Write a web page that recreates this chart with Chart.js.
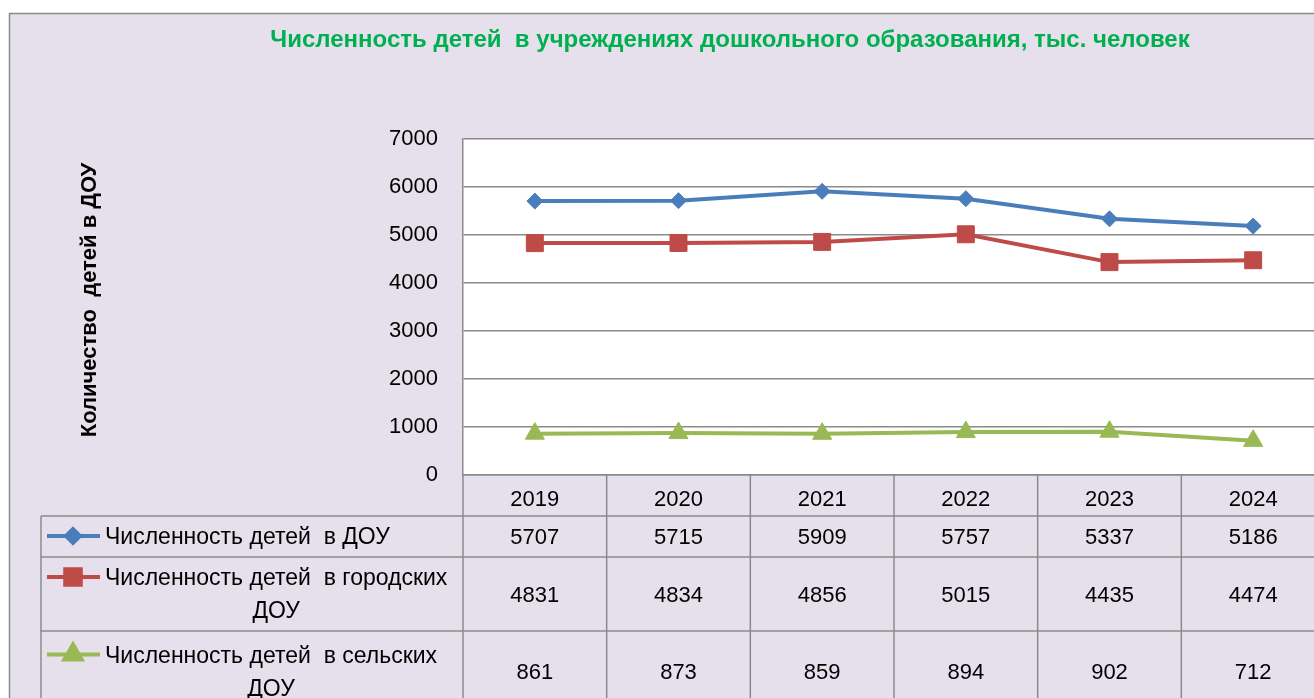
<!DOCTYPE html>
<html lang="ru">
<head>
<meta charset="utf-8">
<title>Численность детей в учреждениях дошкольного образования</title>
<script src="https://cdn.jsdelivr.net/npm/chart.js@4.4.1/dist/chart.umd.min.js"></script>
<style>
    html, body { margin: 0; padding: 0; overflow: hidden; background: #fff; }
    #chart { display: block; }
</style>
</head>
<body>
<canvas id="chart" width="1330" height="698"></canvas>
<script>
// =========================================================
// DATA
// =========================================================
const years       = ['2019', '2020', '2021', '2022', '2023', '2024'];
const kidsTotal   = [5707, 5715, 5909, 5757, 5337, 5186];
const kidsCity    = [4831, 4834, 4856, 5015, 4435, 4474];
const kidsVillage = [861, 873, 859, 894, 902, 712];
const yTicks      = [0, 1000, 2000, 3000, 4000, 5000, 6000, 7000];

const chartTitle = 'Численность детей  в учреждениях дошкольного образования, тыс. человек';
const yTitle     = 'Количество  детей в ДОУ';
// row captions of the data table (already split into lines)
const seriesNames = [
    ['Численность детей  в ДОУ'],
    ['Численность детей  в городских', 'ДОУ'],
    ['Численность детей  в сельских', 'ДОУ']
];

// =========================================================
// LOOK
// =========================================================
const FONT      = "'Liberation Sans', Arial, sans-serif";
const LAVENDER  = '#E5E0EC';
const GRID      = '#8A8A8A';
const BLUE      = '#4A7EBB';
const RED       = '#BE4B48';
const GREEN     = '#98B954';

// table rows: top/bottom y of each body row (header row is the x axis)
const ROW_EDGES  = [516, 557, 631, 712];
const TABLE_LEFT = 41;
const LINE_GAP   = 33;

// =========================================================
// PLUGIN: sheet background + data table under the x axis
// =========================================================
const sheetPlugin = {
    id: 'sheet',
    beforeDraw(chart) {
        const { ctx, width, height, chartArea: a } = chart;
        ctx.save();
        ctx.fillStyle = '#fff';
        ctx.fillRect(0, 0, width, height);
        ctx.fillStyle = LAVENDER;
        ctx.fillRect(9, 13, width, height);
        ctx.strokeStyle = '#8C8C8C';
        ctx.lineWidth = 1.5;
        ctx.strokeRect(9.5, 13.5, width + 20, height + 20);
        ctx.fillStyle = '#fff';
        ctx.fillRect(a.left, a.top, a.right - a.left, a.bottom - a.top);
        ctx.restore();
    },
    afterDraw(chart) {
        const { ctx, width, height, chartArea: a } = chart;
        const xs = chart.scales.x;
        const half = (xs.getPixelForValue(1) - xs.getPixelForValue(0)) / 2;

        ctx.save();

        // y axis title
        ctx.save();
        ctx.translate(90, 300);
        ctx.rotate(-Math.PI / 2);
        ctx.font = 'bold 22px ' + FONT;
        ctx.fillStyle = '#000';
        ctx.textAlign = 'center';
        ctx.textBaseline = 'middle';
        ctx.fillText(yTitle, 0, 0);
        ctx.restore();

        // grid of the table
        ctx.strokeStyle = GRID;
        ctx.lineWidth = 1.5;
        ctx.beginPath();
        ROW_EDGES.slice(0, 3).forEach(y => {
            ctx.moveTo(TABLE_LEFT, y);
            ctx.lineTo(width, y);
        });
        ctx.moveTo(TABLE_LEFT, ROW_EDGES[0]);
        ctx.lineTo(TABLE_LEFT, height);
        ctx.moveTo(a.left, a.bottom);
        ctx.lineTo(a.left, height);
        years.forEach((_, i) => {
            const x = xs.getPixelForValue(i) + half;
            ctx.moveTo(x, a.bottom);
            ctx.lineTo(x, height);
        });
        ctx.stroke();

        // legend keys, captions, values
        chart.data.datasets.forEach((ds, r) => {
            const top = ROW_EDGES[r], bottom = ROW_EDGES[r + 1];
            const mid = (top + bottom) / 2 + 1.5;
            const lines = seriesNames[r];
            const firstY = mid - (lines.length - 1) * LINE_GAP / 2;

            // key: short line with the marker
            ctx.strokeStyle = ds.borderColor;
            ctx.lineWidth = 4;
            ctx.beginPath();
            ctx.moveTo(47, firstY - 2);
            ctx.lineTo(100, firstY - 2);
            ctx.stroke();
            ctx.fillStyle = ds.pointBackgroundColor;
            ctx.strokeStyle = ds.pointBorderColor;
            Chart.helpers.drawPoint(ctx, {
                pointStyle: ds.pointStyle,
                radius: ds.pointRadius - 1,
                rotation: 0,
                borderWidth: 1
            }, 73, firstY - 2);

            // caption
            ctx.font = '23px ' + FONT;
            ctx.fillStyle = '#000';
            ctx.textBaseline = 'middle';
            const firstW = ctx.measureText(lines[0]).width;
            ctx.textAlign = 'left';
            ctx.fillText(lines[0], 105, firstY);
            ctx.textAlign = 'center';
            for (let k = 1; k < lines.length; k++) {
                ctx.fillText(lines[k], 105 + firstW / 2, firstY + k * LINE_GAP);
            }

            // values
            ctx.font = '22px ' + FONT;
            ds.data.forEach((v, i) => {
                ctx.fillText(String(v), xs.getPixelForValue(i), mid);
            });
        });

        ctx.restore();
    }
};

// =========================================================
// CHART
// =========================================================
function makeSeries(label, data, color, style, radius) {
    return {
        label: label,
        data: data,
        borderColor: color,
        backgroundColor: color,
        borderWidth: 4,
        tension: 0,
        pointStyle: style,
        pointRadius: radius,
        pointHoverRadius: radius,
        pointBackgroundColor: color,
        pointBorderColor: color,
        pointBorderWidth: 1
    };
}

new Chart(document.getElementById('chart'), {
    type: 'line',
    data: {
        labels: years,
        datasets: [
            makeSeries(seriesNames[0].join(' '), kidsTotal, BLUE, 'rectRot', 8),
            makeSeries(seriesNames[1].join(' '), kidsCity, RED, 'rect', 12),
            makeSeries(seriesNames[2].join(' '), kidsVillage, GREEN, 'triangle', 11)
        ]
    },
    options: {
        responsive: false,
        animation: false,
        devicePixelRatio: 1,
        layout: {
            autoPadding: false,
            padding: { top: 0, left: 135, right: 5, bottom: 182 }
        },
        plugins: {
            legend: { display: false },
            tooltip: { enabled: false },
            title: {
                display: true,
                text: chartTitle,
                color: '#00B050',
                font: { family: FONT, size: 24, weight: 'bold', lineHeight: 1.2 },
                padding: { top: 26, bottom: 84.2 }
            }
        },
        scales: {
            x: {
                offset: true,
                grid: { display: false, drawTicks: false },
                border: { display: true, color: GRID, width: 1.5 },
                ticks: {
                    color: '#000',
                    padding: 12,
                    font: { family: FONT, size: 22 }
                },
                afterFit: s => { s.height = 41; }
            },
            y: {
                min: yTicks[0],
                max: yTicks[yTicks.length - 1],
                grid: { color: GRID, lineWidth: 1.5, drawTicks: false },
                border: { display: true, color: GRID, width: 1.5 },
                ticks: {
                    color: '#000',
                    padding: 25,
                    font: { family: FONT, size: 22 },
                    callback: v => String(v)
                },
                afterBuildTicks: s => { s.ticks = yTicks.map(v => ({ value: v })); },
                afterFit: s => { s.width = 328; }
            }
        }
    },
    plugins: [sheetPlugin]
});
</script>
</body>
</html>
